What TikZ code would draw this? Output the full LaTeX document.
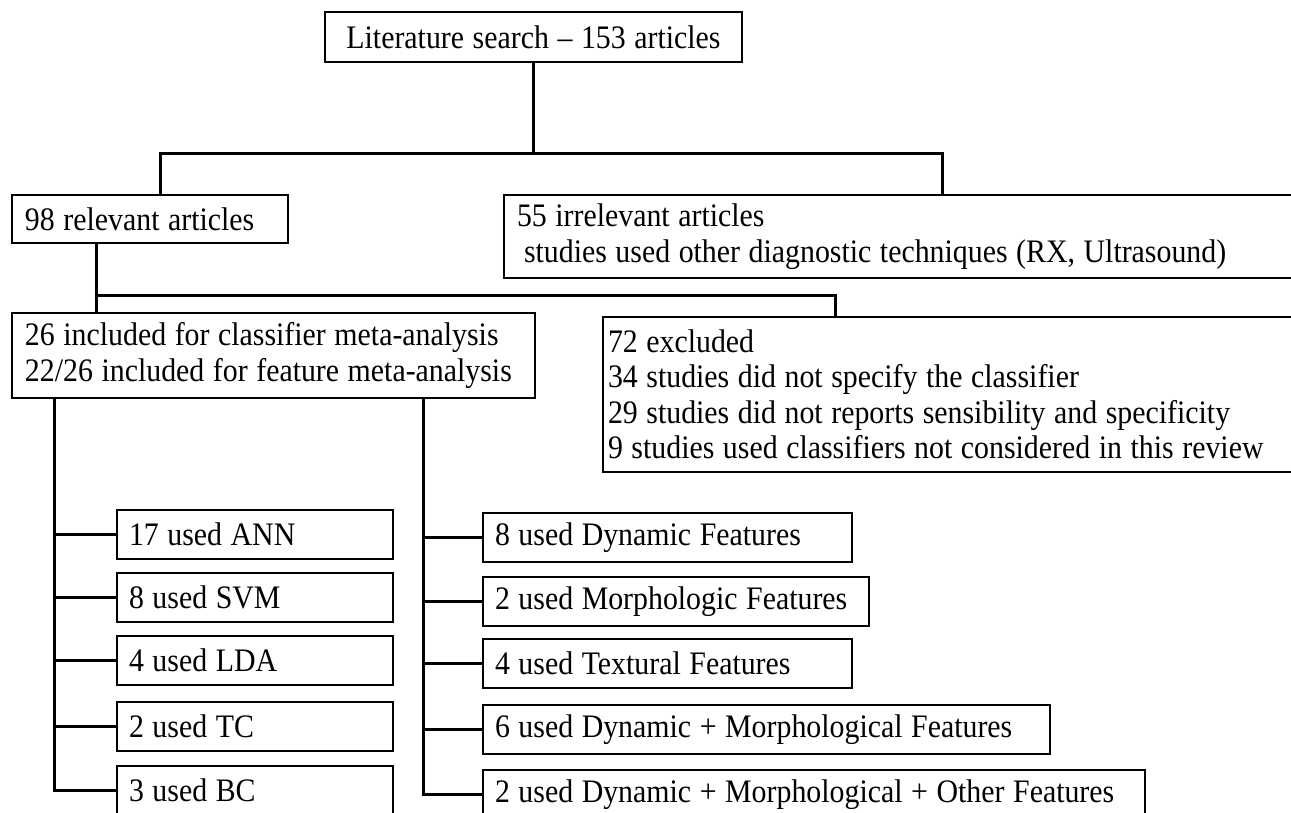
\documentclass[tikz,border=0pt]{standalone}
\usepackage{fontspec}
\setmainfont{Liberation Serif}[FakeStretch=0.91, WordSpace=1.15]
\newcommand\boxfont{\fontsize{16.4}{17.75}\selectfont}
\tikzset{
  box/.style={draw, line width=1pt, anchor=north west, outer sep=0pt,
    inner xsep=6.5pt, inner ysep=0pt, align=flush left, font=\boxfont},
  leaf/.style={box, inner xsep=6pt, minimum height=24.5pt},
  link/.style={line width=1.5pt}
}
\begin{document}
\begin{tikzpicture}[x=0.5pt, y=-0.5pt]
  \useasboundingbox (0,0) rectangle (1291,813);
  \clip (0,0) rectangle (1291,813);
  \node [box, align=center, inner xsep=0pt, minimum width=208.5pt, minimum height=25pt] (search) at (325,12) {Literature search -- 153 articles};
  \node [box, text width=125pt, minimum height=24pt] (rel) at (12,195) {98 relevant articles};
  \node [box, text width=391pt, minimum height=41.5pt] (irr) at (504,195) {\mbox{55 irrelevant articles}\\\mbox{\hspace*{3.5pt}studies used other diagnostic techniques (RX, Ultrasound)}};
  \node [box, text width=248.5pt, minimum height=42.5pt] (inc) at (12,313) {\mbox{26 included for classifier meta-analysis}\\\mbox{22/26 included for feature meta-analysis}};
  \node [box, inner xsep=2.5pt, text width=353.5pt, minimum height=77.5pt] (exc) at (603,317) {\mbox{72 excluded}\\\mbox{34 studies did not specify the classifier}\\\mbox{29 studies did not reports sensibility and specificity}\\\mbox{9 studies used classifiers not considered in this review}};
  \node [leaf, text width=126pt] (ann) at (117,510) {17 used ANN};
  \node [leaf, text width=126pt] (svm) at (117,573) {8 used SVM};
  \node [leaf, text width=126pt] (lda) at (117,636) {4 used LDA};
  \node [leaf, text width=126pt] (tc) at (117,702) {2 used TC};
  \node [leaf, text width=126pt] (bc) at (117,766) {3 used BC};
  \node [leaf, text width=172.5pt] (dyn) at (483,513) {8 used Dynamic Features};
  \node [leaf, text width=181pt] (mor) at (483,577) {2 used Morphologic Features};
  \node [leaf, text width=172.5pt] (tex) at (483,639) {4 used Textural Features};
  \node [leaf, text width=271.5pt] (dm) at (483,705) {6 used Dynamic + Morphological Features};
  \node [leaf, text width=319pt] (dmo) at (483,770) {2 used Dynamic + Morphological + Other Features};
  \coordinate (b1) at (160,154);
  \coordinate (b2) at (942,154);
  \coordinate (b3) at (96,295);
  \coordinate (b4) at (835,295);
  \coordinate (cl) at (54,0);
  \coordinate (cr) at (423,0);
  \draw [link] (search.south) -- (search.south |- b1);
  \draw [link] (b1 |- rel.north) |- (b2) -- (b2 |- irr.north);
  \draw [link] (b3 |- rel.south) -- (b3 |- inc.north);
  \draw [link] (b3) -- (b4) -- (b4 |- exc.north);
  \draw [link] (cl |- inc.south) |- (bc.west);
  \foreach \n in {ann,svm,lda,tc}
    \draw [link] (cl |- \n.west) -- (\n.west);
  \draw [link] (cr |- inc.south) |- (dmo.west);
  \foreach \n in {dyn,mor,tex,dm}
    \draw [link] (cr |- \n.west) -- (\n.west);
\end{tikzpicture}
\end{document}
